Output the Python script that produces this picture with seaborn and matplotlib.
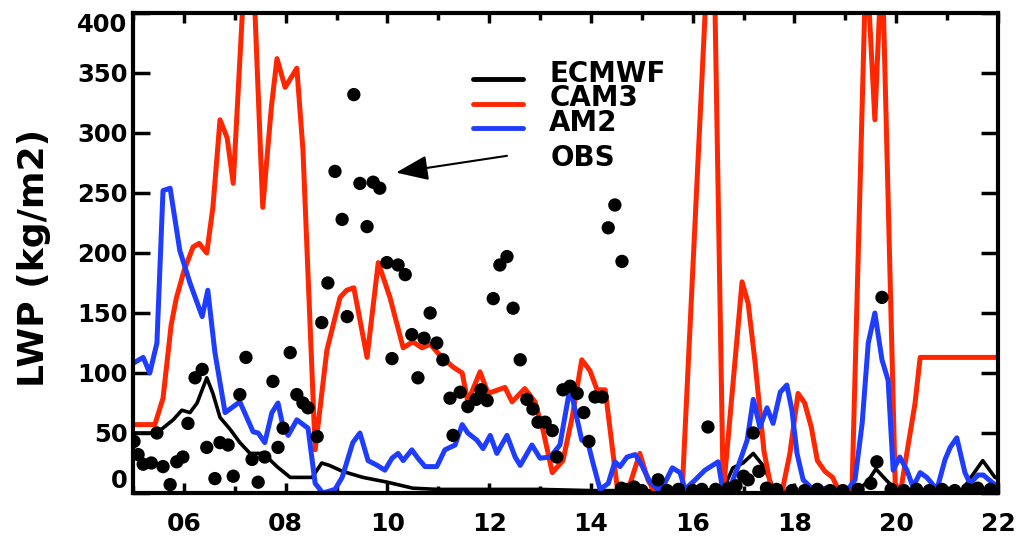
import numpy as np
import matplotlib
matplotlib.use("Agg")
import matplotlib.pyplot as plt
import seaborn as sns

# ---- liquid water path time series (day of month, labelled kg/m2) ----
ecmwf_day = [5.0, 5.47, 5.79, 5.96, 6.12, 6.26, 6.45, 6.57, 6.71, 6.91, 7.1, 7.3, 7.56, 7.83,
             8.09, 8.52, 8.71, 8.86, 9.12, 9.52, 10.0, 10.5, 11.0, 12.0, 13.0, 14.0, 15.0, 16.0,
             16.6, 16.79, 16.99, 17.19, 17.38, 17.58, 17.8, 19.2, 19.43, 19.6, 19.82, 20.02,
             21.3, 21.45, 21.7, 21.94, 22.0]
ecmwf_lwp = [50, 50, 61, 69, 67, 75, 96, 83, 63, 53, 42, 33, 33, 22,
             13, 13, 25, 23, 18, 13, 9, 4, 3, 3, 3, 2, 2, 2,
             3, 21, 25, 33, 23, 5, 1, 1, 9, 20, 10, 2,
             2, 12, 27, 13, 12]

cam3_day = [5.0, 5.43, 5.59, 5.75, 5.85, 6.0, 6.18, 6.3, 6.45, 6.57, 6.71, 6.85, 6.97, 7.2,
            7.36, 7.55, 7.72, 7.83, 7.99, 8.22, 8.34, 8.58, 8.81, 9.07, 9.2, 9.34, 9.6, 9.82,
            10.05, 10.31, 10.5, 10.68, 10.84, 11.07, 11.29, 11.47, 11.58, 11.82, 11.98, 12.31,
            12.45, 12.7, 12.9, 13.06, 13.24, 13.45, 13.63, 13.82, 13.98, 14.12, 14.28, 14.53,
            14.71, 14.96, 15.12, 15.26, 15.69, 15.8, 16.3, 16.42, 16.6, 16.97, 17.09, 17.22,
            17.4, 17.56, 17.75, 17.91, 18.07, 18.2, 18.33, 18.45, 18.6, 18.75, 18.87, 19.13,
            19.41, 19.58, 19.72, 19.98, 20.08, 20.37, 20.47, 22.0]
cam3_lwp = [57, 57, 79, 140, 162, 185, 205, 208, 200, 238, 311, 296, 258, 440,
            440, 238, 322, 362, 338, 354, 286, 36, 119, 163, 169, 171, 113, 192,
            163, 121, 126, 121, 124, 113, 105, 100, 76, 101, 83, 88,
            76, 87, 76, 52, 17, 27, 63, 111, 102, 86, 86, 0,
            0, 33, 11, 0, 0, 8, 450, 450, 0, 176, 158, 111,
            35, 0, 0, 33, 83, 75, 55, 27, 18, 13, 2, 2,
            450, 311, 450, 8, 0, 75, 113, 113]

am2_day = [5.0, 5.2, 5.33, 5.47, 5.59, 5.73, 5.92, 6.12, 6.36, 6.47, 6.61, 6.81, 7.1, 7.36,
           7.46, 7.59, 7.73, 7.85, 7.95, 8.05, 8.22, 8.44, 8.58, 8.73, 8.97, 9.11, 9.32, 9.46,
           9.62, 9.8, 9.95, 10.09, 10.21, 10.31, 10.48, 10.6, 10.74, 10.97, 11.13, 11.33,
           11.47, 11.58, 11.76, 11.88, 12.02, 12.15, 12.35, 12.51, 12.61, 12.84, 13.0, 13.2,
           13.39, 13.59, 13.69, 13.82, 13.94, 14.04, 14.18, 14.34, 14.47, 14.57, 14.71, 14.87,
           15.0, 15.16, 15.32, 15.46, 15.6, 15.75, 15.85, 16.05, 16.24, 16.5, 16.6, 16.73,
           16.89, 17.07, 17.19, 17.32, 17.46, 17.58, 17.72, 17.85, 17.95, 18.05, 18.17, 18.36,
           18.64, 18.84, 19.05, 19.19, 19.33, 19.45, 19.58, 19.72, 19.84, 19.94, 20.07, 20.21,
           20.33, 20.47, 20.6, 20.8, 20.96, 21.06, 21.19, 21.35, 21.45, 21.61, 21.71, 21.88, 22.0]
am2_lwp = [108, 113, 100, 125, 252, 254, 202, 175, 147, 169, 117, 67, 76, 51,
           50, 42, 67, 75, 55, 48, 61, 54, 8, 0, 3, 13, 42, 50,
           27, 23, 19, 29, 33, 27, 36, 29, 22, 22, 36, 40,
           57, 50, 44, 37, 48, 33, 48, 30, 23, 40, 29, 30,
           40, 88, 69, 44, 42, 25, 3, 8, 26, 22, 30, 32,
           23, 9, 3, 9, 21, 17, 3, 11, 19, 26, 0, 4,
           22, 44, 78, 55, 71, 58, 84, 90, 69, 33, 11, 3,
           4, 3, 3, 11, 58, 125, 150, 111, 94, 19, 30, 19,
           5, 17, 13, 3, 28, 38, 46, 17, 8, 15, 15, 9, 5]

obs_day = [5.02, 5.1, 5.2, 5.36, 5.47, 5.59, 5.73, 5.86, 5.98, 6.08, 6.22, 6.36, 6.45, 6.61,
           6.71, 6.87, 6.97, 7.1, 7.22, 7.34, 7.46, 7.59, 7.75, 7.85, 7.95, 8.09, 8.22, 8.34,
           8.44, 8.62, 8.71, 8.83, 8.97, 9.11, 9.21, 9.34, 9.46, 9.6, 9.72, 9.85, 9.99, 10.09,
           10.21, 10.35, 10.48, 10.6, 10.72, 10.84, 10.97, 11.09, 11.23, 11.29, 11.43, 11.58,
           11.74, 11.84, 11.96, 12.08, 12.21, 12.35, 12.47, 12.61, 12.74, 12.86, 12.96, 13.1,
           13.24, 13.33, 13.45, 13.59, 13.73, 13.86, 13.96, 14.08, 14.22, 14.34, 14.47, 14.61,
           15.32, 16.3, 17.09, 17.19, 17.3, 19.62, 19.72,
           14.6, 14.72, 14.85, 15.0, 15.5, 15.72, 16.0, 16.18, 16.45, 16.7, 16.85, 17.0,
           17.45, 17.65, 17.95, 18.2, 18.45, 18.7, 18.95, 19.25, 19.5, 19.9, 20.15, 20.4,
           20.65, 20.9, 21.15, 21.4, 21.6, 21.85]
obs_lwp = [43, 32, 24, 25, 50, 22, 7, 26, 30, 58, 96, 103, 38, 12,
           42, 40, 14, 82, 113, 28, 9, 30, 93, 38, 54, 117, 82, 75,
           71, 47, 142, 175, 268, 228, 147, 332, 258, 222, 259, 254, 192, 112,
           190, 182, 132, 96, 129, 150, 125, 111, 79, 48, 84, 72,
           78, 86, 77, 162, 190, 197, 154, 111, 78, 70, 59, 59,
           52, 30, 86, 89, 83, 67, 43, 80, 80, 221, 240, 193,
           11, 55, 11, 50, 18, 26, 163,
           4, 3, 5, 2, 2, 3, 2, 3, 3, 4, 6, 14,
           4, 3, 2, 2, 3, 2, 2, 3, 8, 3, 2, 3,
           2, 3, 2, 3, 4, 3]

day_ticks = [6, 8, 10, 12, 14, 16, 18, 20, 22]
day_labels = ["06", "08", "10", "12", "14", "16", "18", "20", "22"]
lwp_ticks = [0, 50, 100, 150, 200, 250, 300, 350, 400]

RED = "#FF2600"
BLUE = "#1F3DFF"

sns.set_theme(style="ticks")
plt.rcParams["font.family"] = ["DejaVu Sans"]
plt.rcParams["font.weight"] = "bold"
plt.rcParams["text.color"] = "black"
plt.rcParams["axes.labelcolor"] = "black"
plt.rcParams["xtick.color"] = "black"
plt.rcParams["ytick.color"] = "black"

fig = plt.figure(figsize=(10.32, 5.37), dpi=100)
ax = fig.add_axes([133 / 1032, 44 / 537, 865 / 1032, 480 / 537])

sns.lineplot(x=ecmwf_day, y=ecmwf_lwp, color="black", linewidth=2.6, label="ECMWF", ax=ax)
sns.lineplot(x=cam3_day, y=cam3_lwp, color=RED, linewidth=3.6, label="CAM3", ax=ax)
sns.lineplot(x=am2_day, y=am2_lwp, color=BLUE, linewidth=3.6, label="AM2", ax=ax)
sns.scatterplot(x=obs_day, y=obs_lwp, color="black", s=92, edgecolor="none", linewidth=0,
                legend=False, zorder=5, ax=ax)

ax.set_xlim(5, 22)
ax.set_ylim(0, 400)
ax.set_xticks(day_ticks)
ax.set_xticklabels(day_labels)
ax.set_xticks(np.arange(5, 23), minor=True)
ax.set_yticks(lwp_ticks)
ax.set_yticklabels([str(v) for v in lwp_ticks])
ax.set_xlabel("")

for s in ax.spines.values():
    s.set_visible(True)
    s.set_linewidth(3)
    s.set_color("black")

ax.tick_params(axis="both", which="both", direction="in", top=True, right=True,
               width=2.5, color="black", labelcolor="black")
ax.tick_params(axis="y", which="major", length=12, pad=4, labelsize=17.5)
ax.tick_params(axis="x", which="major", length=7, pad=14, labelsize=18)
ax.tick_params(axis="x", which="minor", length=5)
for lab in ax.get_xticklabels() + ax.get_yticklabels():
    lab.set_fontweight("bold")
ylabs = ax.get_yticklabels()
ylabs[0].set_va("bottom")
ylabs[-1].set_va("top")

ax.set_ylabel("LWP (kg/m2)", fontsize=26, fontweight="bold", color="black")
ax.yaxis.set_label_coords(-0.095, 0.49)

handles, labels = ax.get_legend_handles_labels()
leg = ax.legend(handles[:3], labels[:3], loc="upper left", bbox_to_anchor=(0.393, 0.888),
                frameon=False, prop={"size": 20, "weight": "bold"}, handlelength=1.8,
                handletextpad=0.95, labelspacing=-0.12, borderpad=0, borderaxespad=0)
for h in leg.get_lines():
    h.set_linewidth(3.5)
# raise the label text a little above its key line
for t in leg.get_texts():
    t.set_color("black")
    t.set_y(7)

ax.annotate("", xy=(10.17, 267), xytext=(12.35, 281),
            arrowprops=dict(arrowstyle="-|>,head_length=0.9,head_width=0.35", color="black",
                            lw=1.5, mutation_scale=22, shrinkA=0, shrinkB=0))
ax.text(13.2, 279, "OBS", fontsize=20, fontweight="bold", va="center", ha="left", color="black")

fig.savefig("out.png", dpi=100)
